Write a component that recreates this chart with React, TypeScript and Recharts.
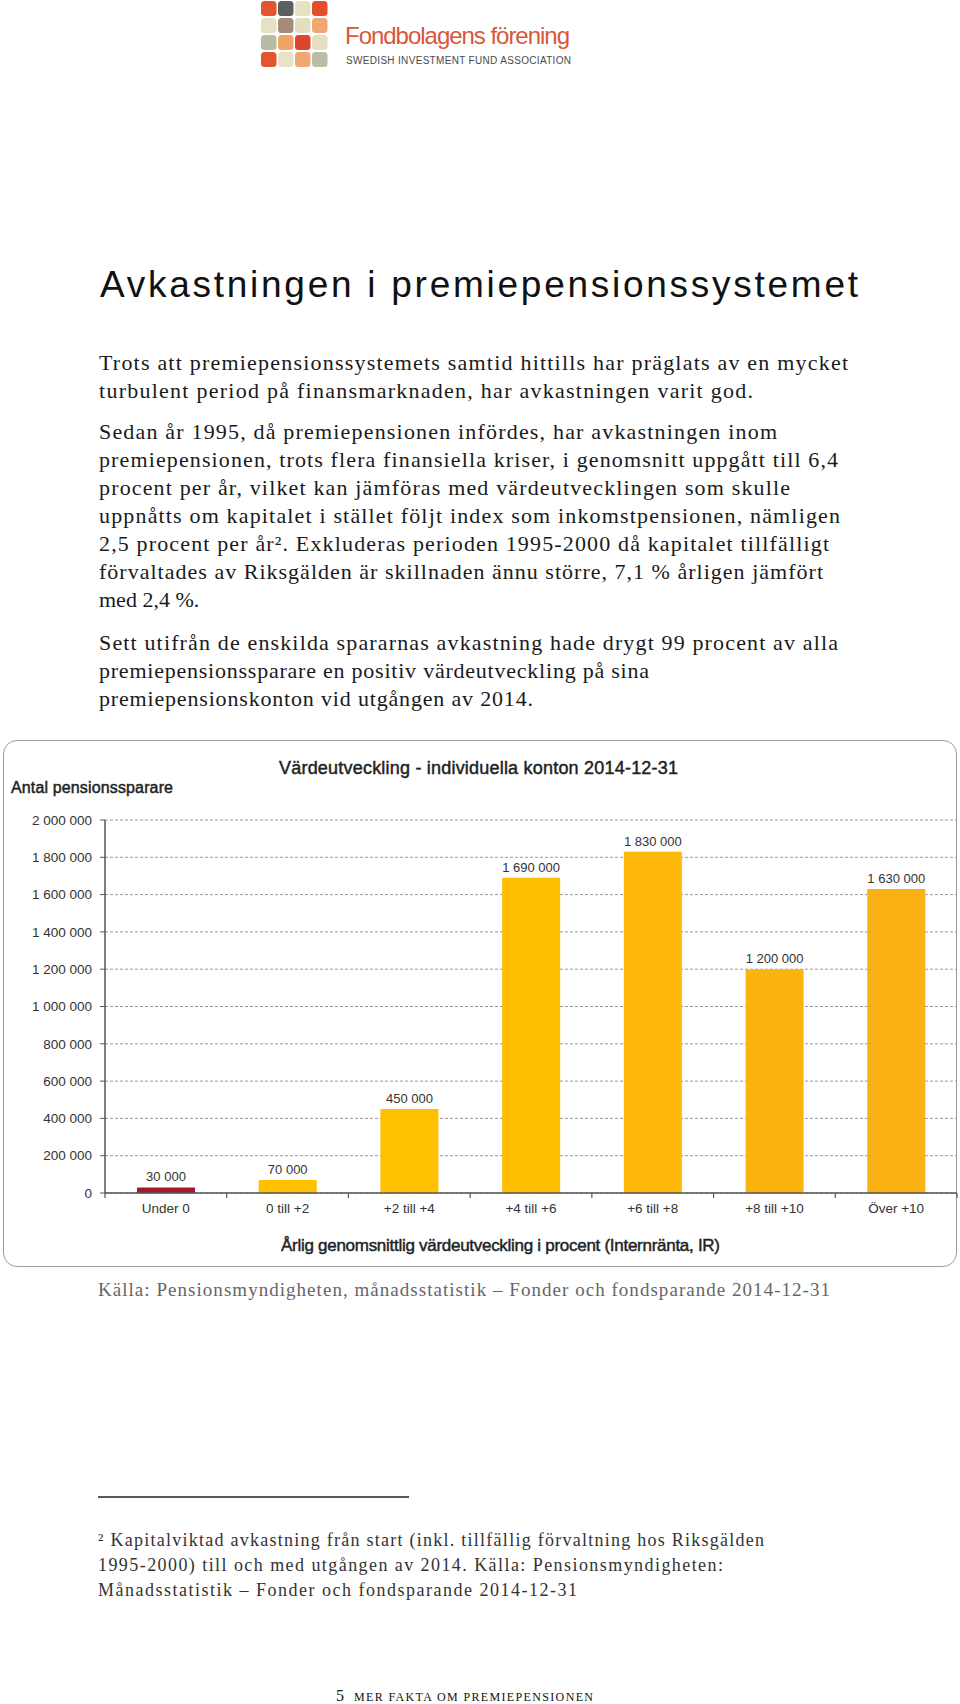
import React from "react";
import {
  BarChart,
  Bar,
  XAxis,
  YAxis,
  CartesianGrid,
  Cell,
  LabelList
} from "recharts";

// chart data
const categories = ["Under 0", "0 till +2", "+2 till +4", "+4 till +6", "+6 till +8", "+8 till +10", "Över +10"];
const savers = [30000, 70000, 450000, 1690000, 1830000, 1200000, 1630000];
const yTicks = [0, 200000, 400000, 600000, 800000, 1000000, 1200000, 1400000, 1600000, 1800000, 2000000];

const barColors = ["#A31A2E", "#FFC000", "#FFC000", "#FFBE02", "#FDB80A", "#FBB40F", "#F9B114"];

// page text
const bodyLines = [
  "Trots att premiepensionssystemets samtid hittills har präglats av en mycket",
  "turbulent period på finansmarknaden, har avkastningen varit god.",
  "Sedan år 1995, då premiepensionen infördes, har avkastningen inom",
  "premiepensionen, trots flera finansiella kriser, i genomsnitt uppgått till 6,4",
  "procent per år, vilket kan jämföras med värdeutvecklingen som skulle",
  "uppnåtts om kapitalet i stället följt index som inkomstpensionen, nämligen",
  "2,5 procent per år². Exkluderas perioden 1995-2000 då kapitalet tillfälligt",
  "förvaltades av Riksgälden är skillnaden ännu större, 7,1 % årligen jämfört",
  "med 2,4 %.",
  "Sett utifrån de enskilda spararnas avkastning hade drygt 99 procent av alla",
  "premiepensionssparare en positiv värdeutveckling på sina",
  "premiepensionskonton vid utgången av 2014."
];
const footnoteLines = [
  "² Kapitalviktad avkastning från start (inkl. tillfällig förvaltning hos Riksgälden",
  "1995-2000) till och med utgången av 2014. Källa: Pensionsmyndigheten:",
  "Månadsstatistik – Fonder och fondsparande 2014-12-31"
];

// layout (0 = natural width)
const bodyBase = [370, 398, 439, 467, 495, 523, 551, 579, 607, 650, 678, 706];
const bodyWidth = [749, 654, 678, 739, 691, 741, 730, 724, 0, 739, 550, 434];
const noteBase = [1546, 1571, 1596];
const noteWidth = [666, 625, 479];

const logoColors = [
  ["#E4552F", "#5B605F", "#E6E1C3", "#E24F2C"],
  ["#E6E0C4", "#A48B7B", "#E3DEC0", "#F1A772"],
  ["#B9BCA5", "#F2A467", "#DC4631", "#E4DFC2"],
  ["#E4552F", "#EAE2C8", "#F1A772", "#BDBDA7"]
];

const SANS = "'Liberation Sans', Arial, sans-serif";
const SERIF = "'Liberation Serif', 'Times New Roman', serif";

const fmt = (v: any) => String(v).replace(/\B(?=(\d{3})+(?!\d))/g, " ");

const data = categories.map((c, i) => ({ cat: c, value: savers[i] }));

const Txt = ({ x, y, w, size, fam, fill = "#111", heavy, children }: any) => (
  <text
    x={x}
    y={y}
    textLength={w || undefined}
    lengthAdjust={w ? "spacing" : undefined}
    fontSize={size}
    fontFamily={fam}
    fill={fill}
    stroke={heavy ? fill : undefined}
    strokeWidth={heavy ? 0.45 : undefined}
  >
    {children}
  </text>
);

// category label plus tick marks on the category edges
const CatTick = (props: any) => {
  const { x, y, payload, index } = props;
  const half = payload?.offset ?? 0;
  const axisY = y - 10;
  return (
    <g>
      <line x1={x - half} x2={x - half} y1={axisY} y2={axisY + 5} stroke="#555" strokeWidth={1.2} />
      {index === categories.length - 1 && (
        <line x1={x + half} x2={x + half} y1={axisY} y2={axisY + 5} stroke="#555" strokeWidth={1.2} />
      )}
      <text x={x} y={y} dy="0.71em" textAnchor="middle" fill="#333" fontSize={13.5} fontFamily={SANS}>
        {payload.value}
      </text>
    </g>
  );
};

const BarLabel = (props: any) => {
  const { x, y, width, value } = props;
  return (
    <text x={Number(x) + Number(width) / 2} y={Number(y) - 6} textAnchor="middle" fill="#333" fontSize={13} fontFamily={SANS}>
      {fmt(value)}
    </text>
  );
};

export default function App() {
  return (
    <div style={{ position: "absolute", left: 0, top: 0, width: 960, height: 1704, background: "#fff", overflow: "hidden" }}>
      <div
        style={{
          position: "absolute",
          left: 3,
          top: 740,
          width: 954,
          height: 527,
          border: "1.5px solid #9c9c9c",
          borderRadius: 14,
          boxSizing: "border-box"
        }}
      />
      <div style={{ position: "absolute", left: 0, top: 741 }}>
        <BarChart width={960} height={483} data={data} margin={{ top: 79, right: 3, bottom: 0, left: 0 }}>
          <CartesianGrid vertical={false} stroke="#9a9a9a" strokeDasharray="3 2" />
          <XAxis
            dataKey="cat"
            height={31}
            interval={0}
            axisLine={{ stroke: "#555", strokeWidth: 1.5 }}
            tickLine={false}
            tickSize={6}
            tickMargin={4}
            tick={<CatTick />}
          />
          <YAxis
            domain={[0, 2000000]}
            ticks={yTicks}
            interval={0}
            width={105}
            tickSize={5}
            tickMargin={8}
            tickFormatter={fmt}
            axisLine={{ stroke: "#555", strokeWidth: 1.5 }}
            tickLine={{ stroke: "#555" }}
            tick={{ fill: "#333", fontSize: 13.5, fontFamily: SANS }}
          />
          <Bar dataKey="value" barSize={58} isAnimationActive={false}>
            {data.map((d, i) => (
              <Cell key={d.cat} fill={barColors[i]} />
            ))}
            <LabelList dataKey="value" position="top" content={<BarLabel />} />
          </Bar>
        </BarChart>
      </div>

      <svg width={960} height={1704} style={{ position: "absolute", left: 0, top: 0, pointerEvents: "none" }}>
        {/* logo */}
        {logoColors.map((row, r) =>
          row.map((c, k) => (
            <rect key={r + "-" + k} x={261 + k * 17} y={1 + r * 17} width={15.5} height={15} rx={3.5} fill={c} />
          ))
        )}
        <Txt x={345} y={44} w={225} size={24} fam={SANS} fill="#D8573C">Fondbolagens förening</Txt>
        <Txt x={346} y={64} w={225} size={10} fam={SANS} fill="#4a4a4a">SWEDISH INVESTMENT FUND ASSOCIATION</Txt>

        <Txt x={100} y={297} w={758} size={37} fam={SANS} fill="#111">Avkastningen i premiepensionssystemet</Txt>

        {bodyLines.map((l, i) => (
          <Txt key={i} x={99} y={bodyBase[i]} w={bodyWidth[i]} size={22} fam={SERIF} fill="#1a1a1a">
            {l}
          </Txt>
        ))}

        {/* chart texts */}
        <Txt x={279} y={774} w={399} size={18} fam={SANS} fill="#222" heavy>Värdeutveckling - individuella konton 2014-12-31</Txt>
        <Txt x={11} y={793} w={162} size={16} fam={SANS} fill="#222" heavy>Antal pensionssparare</Txt>
        <Txt x={281} y={1251} w={439} size={17} fam={SANS} fill="#222" heavy>Årlig genomsnittlig  värdeutveckling  i procent (Internränta,  IR)</Txt>

        <Txt x={98} y={1296} w={732} size={19} fam={SERIF} fill="#666">
          Källa: Pensionsmyndigheten, månadsstatistik – Fonder och fondsparande 2014-12-31
        </Txt>

        <line x1={98} x2={409} y1={1497} y2={1497} stroke="#222" strokeWidth={1.5} />
        {footnoteLines.map((l, i) => (
          <Txt key={i} x={98} y={noteBase[i]} w={noteWidth[i]} size={18} fam={SERIF} fill="#333">
            {l}
          </Txt>
        ))}

        <text x={336} y={1701} fontSize={16} fontFamily={SERIF} fill="#111">5</text>
        <Txt x={354} y={1701} w={239} size={12} fam={SERIF} fill="#111">MER FAKTA OM PREMIEPENSIONEN</Txt>
      </svg>
    </div>
  );
}
